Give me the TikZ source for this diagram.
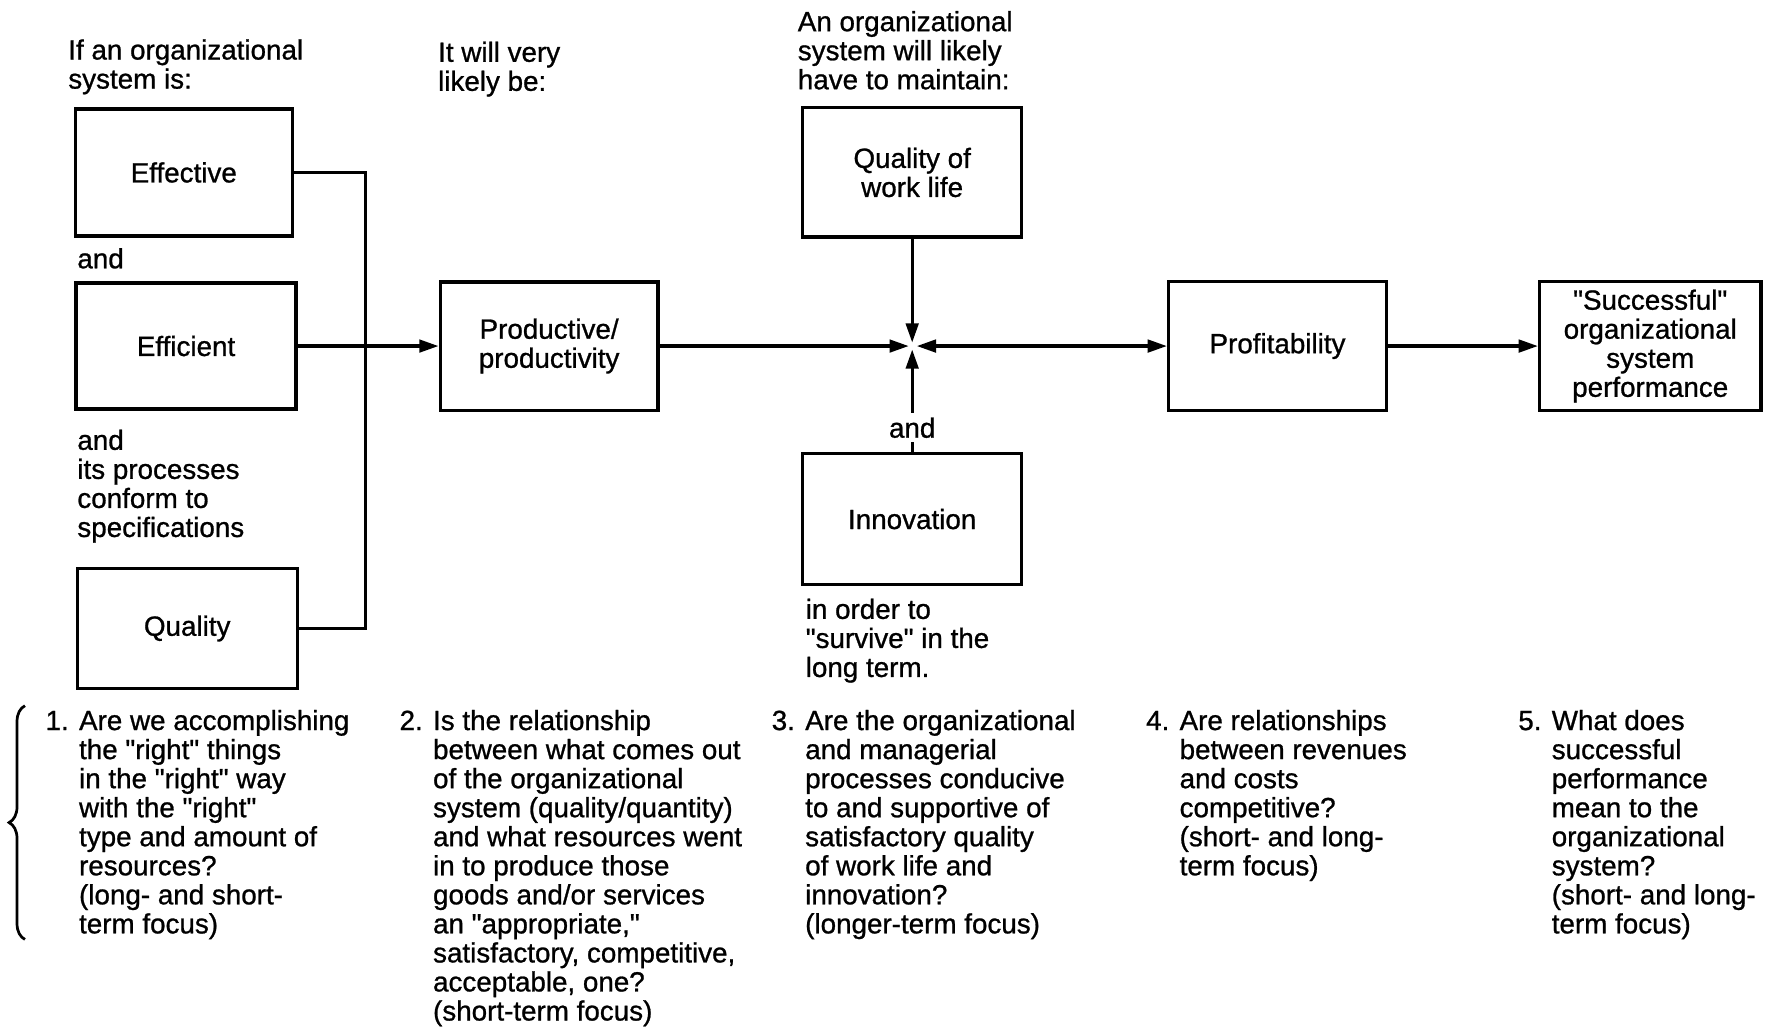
\documentclass[tikz,border=0pt]{standalone}
\usepackage{fontspec}
\setmainfont{Liberation Sans}[FakeBold=0.9,Ligatures=TeXOff]
\usetikzlibrary{arrows.meta,decorations.pathreplacing}
\newcommand{\dq}{\char"22\relax}
\begin{document}
\begin{tikzpicture}[x=1pt,y=-1pt,
  txt/.style={font=\fontsize{24.5}{25.6}\selectfont, inner sep=0pt},
  lefttxt/.style={txt, anchor=north west, align=left},
  box/.style={txt, draw, line width=2.9pt, align=center},
  conn/.style={line width=2.9pt},
  arr/.style={conn, -{Triangle[length=17pt,width=11pt]}},
  darr/.style={conn, {Triangle[length=17pt,width=11pt]}-{Triangle[length=17pt,width=11pt]}}
]
\useasboundingbox (0,0) rectangle (1568,906);

% headings
\node[lefttxt] (h1) at (60,34.5) {If an organizational\\system is:};
\node[lefttxt] (h2) at (386,36.5) {It will very\\likely be:};
\node[lefttxt] (h3) at (703,9.5) {An organizational\\system will likely\\have to maintain:};

% boxes
\node[box, minimum width=191pt, minimum height=112pt] (eff) at (162,152) {Effective};
\node[box, minimum width=194pt, minimum height=111pt] (effi) at (164,305) {Efficient};
\node[box, minimum width=194pt, minimum height=106pt] (qual) at (165,554) {Quality};
\node[box, minimum width=192pt, minimum height=113pt] (prod) at (484,305) {Productive/\\productivity};
\node[box, minimum width=193pt, minimum height=114pt] (qwl) at (804,152) {Quality of\\work life};
\node[box, minimum width=193pt, minimum height=115pt] (innov) at (804,457.5) {Innovation};
\node[box, minimum width=192pt, minimum height=114pt] (prof) at (1126,305) {Profitability};
\node[box, minimum width=195pt, minimum height=114pt] (succ) at (1454.5,305) {\dq Successful\dq\\organizational\\system\\performance};

% side texts
\node[lefttxt] (and1) at (68,218.5) {and};
\node[lefttxt] (proc) at (68,378.5) {and\\its processes\\conform to\\specifications};
\node[lefttxt] (surv) at (710,527.5) {in order to\\\dq survive\dq\ in the\\long term.};

% connectors
\coordinate (bus) at (322,0);
\draw[conn] (eff.east) -| (bus |- qual.east) -- (qual.east);
\draw[arr] (effi.east) -- (prod.west);
\coordinate (J) at (804,305);
\draw[arr, shorten >=3pt] (prod.east) -- (J);
\draw[arr, shorten >=3pt] (qwl.south) -- (J);
\draw[arr, shorten >=3pt] (innov.north) -- (J);
\draw[darr, shorten <=4pt] (J) -- (prof.west);
\draw[arr] (prof.east) -- (succ.west);
\node[txt, fill=white, inner ysep=4pt, inner xsep=2pt] (and2) at (804,377) {and};

% brace
\draw[line width=2.4pt, decorate, decoration={brace, amplitude=14pt}] (22,828) -- (22,622);

% questions
\node[lefttxt] (q1) at (40,625.5) {1. Are we accomplishing\\
\hphantom{1. }the \dq right\dq\ things\\
\hphantom{1. }in the \dq right\dq\ way\\
\hphantom{1. }with the \dq right\dq\\
\hphantom{1. }type and amount of\\
\hphantom{1. }resources?\\
\hphantom{1. }(long- and short-\\
\hphantom{1. }term focus)};
\node[lefttxt] (q2) at (352,625.5) {2. Is the relationship\\
\hphantom{2. }between what comes out\\
\hphantom{2. }of the organizational\\
\hphantom{2. }system (quality/quantity)\\
\hphantom{2. }and what resources went\\
\hphantom{2. }in to produce those\\
\hphantom{2. }goods and/or services\\
\hphantom{2. }an \dq appropriate,\dq\\
\hphantom{2. }satisfactory, competitive,\\
\hphantom{2. }acceptable, one?\\
\hphantom{2. }(short-term focus)};
\node[lefttxt] (q3) at (680,625.5) {3. Are the organizational\\
\hphantom{3. }and managerial\\
\hphantom{3. }processes conducive\\
\hphantom{3. }to and supportive of\\
\hphantom{3. }satisfactory quality\\
\hphantom{3. }of work life and\\
\hphantom{3. }innovation?\\
\hphantom{3. }(longer-term focus)};
\node[lefttxt] (q4) at (1010,625.5) {4. Are relationships\\
\hphantom{4. }between revenues\\
\hphantom{4. }and costs\\
\hphantom{4. }competitive?\\
\hphantom{4. }(short- and long-\\
\hphantom{4. }term focus)};
\node[lefttxt] (q5) at (1338,625.5) {5. What does\\
\hphantom{5. }successful\\
\hphantom{5. }performance\\
\hphantom{5. }mean to the\\
\hphantom{5. }organizational\\
\hphantom{5. }system?\\
\hphantom{5. }(short- and long-\\
\hphantom{5. }term focus)};
\end{tikzpicture}
\end{document}
